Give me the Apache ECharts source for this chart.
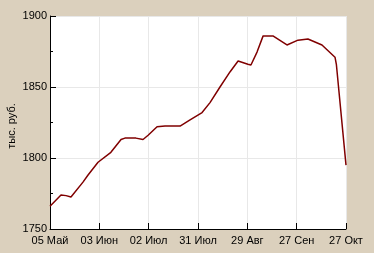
<!DOCTYPE html>
<html><head><meta charset="utf-8">
<script src="https://cdn.jsdelivr.net/npm/echarts@6/dist/echarts.min.js"></script>
<style>html,body{margin:0;padding:0;background:#dbd0bd;}#c{width:374px;height:253px;}</style>
</head><body><div id="c"></div>
<script>
// day offsets from 05 May
var days = [0, 6.5, 9.5, 12.4, 19.5, 22.5, 28.4, 36, 42, 44.3, 50.8, 55, 58, 63.3, 68, 76.9, 82.8, 89.9, 94.6, 100.5, 106.4, 111.2, 117, 118.8, 122.4, 126, 131.8, 140.1, 146.6, 152.5, 160.8, 168.5, 169.3, 175];
var values = [1766, 1774, 1773.5, 1772.5, 1783, 1788, 1797, 1804, 1813, 1814, 1814, 1813, 1816, 1822, 1822.5, 1822.5, 1826.8, 1832, 1839, 1850, 1860.6, 1868.3, 1866, 1865.5, 1874.6, 1886, 1886, 1879.6, 1883, 1883.8, 1879.6, 1871, 1866, 1795];
var xLabels = ['05 Май', '03 Июн', '02 Июл', '31 Июл', '29 Авг', '27 Сен', '27 Окт'];
var yName = 'тыс. руб.';
var yMin = 1750, yMax = 1900;

var step = 175 / 6;
var data = days.map(function (d, i) { return [d, values[i]]; });
var chart = echarts.init(document.getElementById('c'));
var font = 'Liberation Sans, Arial, sans-serif';
chart.setOption({
  backgroundColor: '#dbd0bd',
  animation: false,
  grid: { left: 50, top: 16, right: 28, bottom: 24, show: true, backgroundColor: '#ffffff', borderWidth: 0, containLabel: false, outerBoundsMode: 'none' },
  graphic: [{
    type: 'text', x: 12, y: 126, rotation: Math.PI / 2,
    style: { text: yName, fill: '#000', font: '11px ' + font, textAlign: 'center', textVerticalAlign: 'middle' }
  }],
  xAxis: {
    type: 'value', min: 0, max: 175, interval: step,
    axisLine: { lineStyle: { color: '#000', width: 1 } },
    axisTick: { inside: true, length: 6, lineStyle: { color: '#000' } },
    splitLine: { show: true, lineStyle: { color: '#e8e8e8', width: 1 } },
    axisLabel: {
      margin: 6, color: '#000', fontFamily: font, fontSize: 11,
      formatter: function (v) { var i = Math.round(v / step); return xLabels[i] || ''; }
    }
  },
  yAxis: {
    type: 'value', min: yMin, max: yMax, interval: 50,
    axisLine: { show: true, lineStyle: { color: '#000', width: 1 } },
    axisTick: { show: true, inside: true, length: 6, lineStyle: { color: '#000' } },
    minorTick: { show: true, splitNumber: 2, length: 3, lineStyle: { color: '#000' } },
    splitLine: { show: true, lineStyle: { color: '#e8e8e8', width: 1 } },
    axisLabel: { margin: 3, color: '#000', fontFamily: font, fontSize: 11,
      formatter: function (v) { return String(v); } }
  },
  series: [{
    type: 'line', data: data, showSymbol: false,
    lineStyle: { color: '#800000', width: 1.5 }
  }]
});
</script></body></html>
